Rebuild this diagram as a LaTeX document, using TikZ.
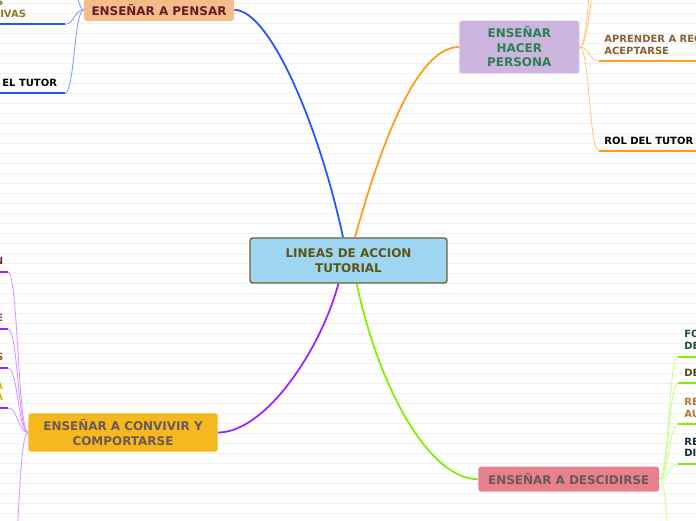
\documentclass[tikz,border=0pt]{standalone}
\usepackage{fontspec}
\setmainfont{DejaVu Sans}
\usetikzlibrary{positioning}

\definecolor{azul}{HTML}{2255FF}
\definecolor{azulclaro}{HTML}{7A9CFF}
\definecolor{naranja}{HTML}{FF9A1A}
\definecolor{naranjaclaro}{HTML}{FFC878}
\definecolor{morado}{HTML}{A020FF}
\definecolor{moradoclaro}{HTML}{D796FF}
\definecolor{verde}{HTML}{80F000}
\definecolor{verdeclaro}{HTML}{C4FF88}
\definecolor{celeste}{HTML}{9DD5F2}
\definecolor{oliva}{HTML}{6E6228}
\definecolor{olivatexto}{HTML}{5F5412}
\definecolor{durazno}{HTML}{F2BD88}
\definecolor{granate}{HTML}{6A1A2A}
\definecolor{lila}{HTML}{CDB5DF}
\definecolor{verdetexto}{HTML}{2A8050}
\definecolor{oro}{HTML}{F5B81E}
\definecolor{gristexto}{HTML}{6A5A56}
\definecolor{rosa}{HTML}{E8808E}
\definecolor{rayado}{HTML}{F1F1F1}
\definecolor{ocre}{HTML}{8A7A2A}
\definecolor{cafe}{HTML}{8A6035}

\begin{document}
\begin{tikzpicture}[x=0.025cm, y=-0.025cm,
    tema/.style={rounded corners=2pt, align=center, inner sep=0pt,
        font=\fontsize{8.5}{10.3}\selectfont\bfseries},
    rama/.style={line width=1.25pt},
    hilo/.style={line width=0.6pt},
    raya/.style={line width=1.6pt},
    etiqueta/.style={inner sep=0pt, font=\fontsize{7.1}{8.5}\selectfont\bfseries}]

    % 画布与横线
    \clip (0,0) rectangle (696,520);
    \fill[white] (0,0) rectangle (696,520);
    \foreach \y in {3.3,13.3,...,513.3}
        \draw[rayado, line width=0.6pt] (0,\y) -- (696,\y);

    % 中心主题
    \node[tema, fill=celeste, draw=oliva, line width=1pt, text=olivatexto,
        minimum width=4.925cm, minimum height=1.125cm] (centro) at (348.5,260.5) {LINEAS DE ACCION\\TUTORIAL};

    % 四个分支
    \node[tema, fill=durazno, text=granate, minimum width=3.75cm, minimum height=0.55cm] (pensar) at (159,9.8) {ENSEÑAR A PENSAR};
    \node[tema, fill=lila, text=verdetexto, minimum width=3cm, minimum height=1.315cm] (hacer) at (519.3,47) {ENSEÑAR\\HACER\\PERSONA};
    \node[tema, fill=oro, text=gristexto, minimum width=4.735cm, minimum height=0.96cm] (convivir) at (123,432.5) {ENSEÑAR A CONVIVIR Y\\COMPORTARSE};
    \node[tema, fill=rosa, text=gristexto, minimum width=4.52cm, minimum height=0.625cm] (decidir) at (568.7,479.2) {ENSEÑAR A DESCIDIRSE};

    % 主干曲线
    \draw[rama, azul] ([xshift=-3.9pt]centro.north) .. controls +(-23,-108) and +(36,0) .. (pensar.east);
    \draw[rama, naranja] ([xshift=4.6pt]centro.north) .. controls +(30,-108) and +(-39,0) .. (hacer.west);
    \draw[rama, morado] ([xshift=-7.2pt]centro.south) .. controls +(-18,67) and +(47,0) .. (convivir.east);
    \draw[rama, verde] ([xshift=5.8pt]centro.south) .. controls +(23,107) and +(-48,0) .. (decidir.west);

    % 子分支端点
    \coordinate (p0) at (65,-60);
    \coordinate (p1) at (65,24.3);
    \coordinate (p2) at (65,93.3);
    \coordinate (h0) at (599,-60);
    \coordinate (h1) at (599,-20);
    \coordinate (h2) at (599,61.3);
    \coordinate (h3) at (599,150.7);
    \coordinate (v1) at (8,271.7);
    \coordinate (v2) at (8,329);
    \coordinate (v3) at (8,368);
    \coordinate (v4) at (8,408);
    \coordinate (v5) at (10,570);
    \coordinate (d1) at (678,356.7);
    \coordinate (d2) at (678,383.3);
    \coordinate (d3) at (678,424.3);
    \coordinate (d4) at (678,464);
    \coordinate (d5) at (676,580);

    % 子分支曲线
    \foreach \c in {p0,p1,p2}
        \draw[hilo, azulclaro] (pensar.west) .. controls +(-9.5,0) and +(9.5,0) .. (\c);
    \foreach \c in {h0,h1,h2,h3}
        \draw[hilo, naranjaclaro] (hacer.east) .. controls +(10,0) and +(-10,0) .. (\c);
    \foreach \c in {v1,v2,v3,v4,v5}
        \draw[hilo, moradoclaro] (convivir.west) .. controls +(-10,0) and +(10,0) .. (\c);
    \foreach \c in {d1,d2,d3,d4,d5}
        \draw[hilo, verdeclaro] (decidir.east) .. controls +(9.5,0) and +(-9.5,0) .. (\c);

    % 下划线
    \foreach \c in {p1,p2} \draw[raya, azul] (\c) -- +(-80,0);
    \foreach \c in {h2,h3} \draw[raya, naranja] (\c) -- +(110,0);
    \foreach \c in {v1,v2,v3,v4} \draw[raya, morado] (\c) -- +(-20,0);
    \foreach \c in {d1,d2,d3,d4} \draw[raya, verde] (\c) -- +(30,0);

    % 文字
    \node[etiqueta, text=ocre, anchor=south east] (ivas1) at (3.5,5.6) {S};
    \node[etiqueta, text=ocre, anchor=south west] (ivas2) at (0,17.6) {IVAS};
    \node[etiqueta, text=black, above left=4.8pt and 5.5pt of p2] (tutor1) {EL TUTOR};
    \node[etiqueta, text=cafe, align=left, above right=4.8pt and 3.6pt of h2] (aprender) {APRENDER A REC\\ACEPTARSE};
    \node[etiqueta, text=black, above right=4.3pt and 3.6pt of h3] (tutor2) {ROL DEL TUTOR};
    \node[etiqueta, text={rgb,255:red,122;green,42;blue,58}, above left=4.8pt and 3.2pt of v1] (n1) {N};
    \node[etiqueta, text={rgb,255:red,138;green,74;blue,90}, above left=4.8pt and 3.2pt of v2] (n2) {E};
    \node[etiqueta, text={rgb,255:red,138;green,90;blue,32}, above left=4.8pt and 3.2pt of v3] (n3) {S};
    \node[etiqueta, text={rgb,255:red,212;green,184;blue,0}, align=right, above left=4.8pt and 3.2pt of v4] (n4) {A\\A};
    \node[etiqueta, text={rgb,255:red,26;green,80;blue,48}, align=left, above right=4.8pt and 4.3pt of d1] (m1) {FO\\DE};
    \node[etiqueta, text={rgb,255:red,74;green,74;blue,26}, above right=4.8pt and 4.3pt of d2] (m2) {DE};
    \node[etiqueta, text={rgb,255:red,192;green,112;blue,48}, align=left, above right=4.8pt and 4.3pt of d3] (m3) {RE\\AU};
    \node[etiqueta, text={rgb,255:red,26;green,42;blue,56}, align=left, above right=4.8pt and 4.3pt of d4] (m4) {RE\\DI};
\end{tikzpicture}
\end{document}
